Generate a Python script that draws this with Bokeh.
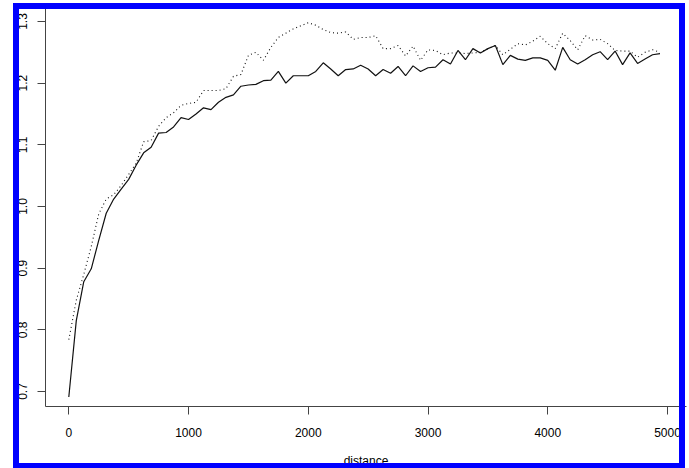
from bokeh.plotting import figure
from bokeh.models import Range1d, FixedTicker, GlobalInlineStyleSheet
from bokeh.embed import file_html
from bokeh.resources import INLINE

distance = [0, 62.5, 125, 187.5, 250, 312.5, 375, 437.5, 500, 562.5, 625, 687.5,
            750, 812.5, 875, 937.5, 1000, 1062.5, 1125, 1187.5, 1250, 1312.5, 1375,
            1437.5, 1500, 1562.5, 1625, 1687.5, 1750, 1812.5, 1875, 1937.5, 2000,
            2062.5, 2125, 2187.5, 2250, 2312.5, 2375, 2437.5, 2500, 2562.5, 2625,
            2687.5, 2750, 2812.5, 2875, 2937.5, 3000, 3062.5, 3125, 3187.5, 3250,
            3312.5, 3375, 3437.5, 3500, 3562.5, 3625, 3687.5, 3750, 3812.5, 3875,
            3937.5, 4000, 4062.5, 4125, 4187.5, 4250, 4312.5, 4375, 4437.5, 4500,
            4562.5, 4625, 4687.5, 4750, 4812.5, 4875, 4937.5]

series_solid = [0.691, 0.815, 0.878, 0.899, 0.945, 0.989, 1.012, 1.028, 1.044, 1.067,
                1.087, 1.096, 1.119, 1.120, 1.129, 1.144, 1.141, 1.150, 1.160, 1.157,
                1.169, 1.177, 1.181, 1.195, 1.197, 1.198, 1.204, 1.205, 1.219, 1.200,
                1.212, 1.212, 1.212, 1.219, 1.233, 1.223, 1.212, 1.222, 1.223, 1.229,
                1.223, 1.212, 1.222, 1.216, 1.227, 1.212, 1.228, 1.219, 1.225, 1.226,
                1.238, 1.231, 1.253, 1.238, 1.256, 1.249, 1.256, 1.261, 1.230, 1.245,
                1.239, 1.237, 1.241, 1.241, 1.237, 1.221, 1.258, 1.238, 1.231, 1.238,
                1.246, 1.251, 1.238, 1.252, 1.230, 1.249, 1.232, 1.239, 1.246, 1.248]

series_dotted = [0.784, 0.848, 0.890, 0.935, 0.988, 1.012, 1.019, 1.034, 1.052, 1.070,
                 1.105, 1.107, 1.130, 1.144, 1.152, 1.164, 1.167, 1.169, 1.188, 1.188,
                 1.188, 1.191, 1.211, 1.214, 1.245, 1.250, 1.237, 1.258, 1.274, 1.281,
                 1.288, 1.293, 1.298, 1.294, 1.287, 1.282, 1.281, 1.283, 1.271, 1.274,
                 1.274, 1.277, 1.256, 1.256, 1.261, 1.244, 1.260, 1.237, 1.254, 1.253,
                 1.246, 1.249, 1.249, 1.248, 1.249, 1.250, 1.256, 1.261, 1.246, 1.255,
                 1.264, 1.262, 1.268, 1.276, 1.264, 1.256, 1.281, 1.269, 1.254, 1.277,
                 1.270, 1.271, 1.264, 1.253, 1.252, 1.252, 1.242, 1.250, 1.254, 1.250]

x_ticks = [0, 1000, 2000, 3000, 4000, 5000]
x_tick_labels = ["0", "1000", "2000", "3000", "4000", "5000"]
y_ticks = [0.7, 0.8, 0.9, 1.0, 1.1, 1.2, 1.3]
y_tick_labels = ["0.7", "0.8", "0.9", "1.0", "1.1", "1.2", "1.3"]
x_title = "distance"

FONT = "Liberation Sans"
AXIS_COLOR = "#444444"

page_css = """
html, body { overflow: hidden; }
body::after {
  content: "";
  position: fixed;
  left: 13px;
  top: 3px;
  width: 672px;
  height: 466px;
  border: 6px solid #0000ff;
  box-sizing: border-box;
  pointer-events: none;
  z-index: 10000;
}
"""

p = figure(width=689, height=476, output_backend="svg", toolbar_location=None,
           x_range=Range1d(-194.6, 5158.7), y_range=Range1d(0.6757, 1.3259),
           min_border_left=45, min_border_right=3, min_border_top=5,
           min_border_bottom=70)
p.stylesheets = [GlobalInlineStyleSheet(css=page_css)]
p.outline_line_color = None
p.grid.visible = False
p.background_fill_color = "white"
p.border_fill_color = "white"

p.line(distance, series_solid, line_color="#111111", line_width=1.2)
p.line(distance, series_dotted, line_color="#111111", line_width=1.1, line_dash="1 3")

xa = p.xaxis[0]
xa.ticker = FixedTicker(ticks=x_ticks)
xa.major_label_overrides = dict(zip(x_ticks, x_tick_labels))
xa.axis_label = x_title
xa.axis_label_standoff = 14
xa.major_label_standoff = 13

ya = p.yaxis[0]
ya.ticker = FixedTicker(ticks=y_ticks)
ya.major_label_overrides = dict(zip(y_ticks, y_tick_labels))
ya.major_label_orientation = "parallel"
ya.major_label_standoff = 10

for ax in (xa, ya):
    ax.minor_tick_line_color = None
    ax.major_tick_in = 0
    ax.major_tick_out = 8
    ax.axis_line_color = AXIS_COLOR
    ax.major_tick_line_color = AXIS_COLOR
    ax.major_label_text_font = FONT
    ax.major_label_text_font_size = "12px"
    ax.major_label_text_color = "black"
    ax.axis_label_text_font = FONT
    ax.axis_label_text_font_size = "12px"
    ax.axis_label_text_font_style = "normal"
    ax.axis_label_text_color = "black"

open("out.html", "w").write(file_html(p, INLINE))
